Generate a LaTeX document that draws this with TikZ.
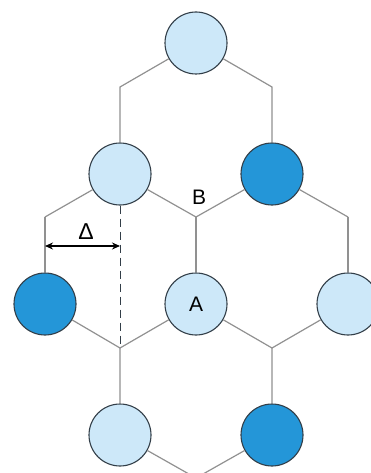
\documentclass[tikz,border=0pt]{standalone}
\usepackage{fontspec}
\setmainfont{Liberation Sans}
\usetikzlibrary{arrows.meta}
\definecolor{atomlight}{RGB}{205, 232, 249}
\definecolor{atomdark}{RGB}{36, 150, 216}
\definecolor{rim}{RGB}{50, 62, 72}
\definecolor{bond}{RGB}{145, 145, 145}

\begin{document}
\begin{tikzpicture}[
    x=1pt, y=-1pt,
    atoml/.style={circle, draw=rim, line width=1.1pt, fill=atomlight, minimum size=62pt, inner sep=0pt, font=\fontsize{21}{21}\selectfont},
    atomd/.style={circle, draw=rim, line width=1.1pt, fill=atomdark, minimum size=62pt, inner sep=0pt},
    bondline/.style={draw=bond, line width=1.2pt},
    lab/.style={font=\fontsize{21}{21}\selectfont}
]
  \useasboundingbox (0,0) rectangle (371,473);
  \clip (0,0) rectangle (371,473);

  % atoms
  \node[atoml] (top) at (196, 43) {};
  \node[atoml] (c1) at (120, 174) {};
  \node[atomd] (c2) at (272, 174) {};
  \node[atomd] (c3) at (45, 304) {};
  \node[atoml] (a) at (196, 304) {A};
  \node[atoml] (c5) at (348, 304) {};
  \node[atoml] (c6) at (120, 435) {};
  \node[atomd] (c7) at (272, 435) {};

  % lattice vertices
  \coordinate (v1) at (120, 87);
  \coordinate (v2) at (272, 87);
  \coordinate (v3) at (45, 217);
  \coordinate (b) at (196, 217);
  \coordinate (v4) at (348, 217);
  \coordinate (v5) at (120, 348);
  \coordinate (v6) at (272, 348);
  \coordinate (v7) at (196, 478);

  % bonds
  \draw[bondline] (top) -- (v1) -- (c1);
  \draw[bondline] (top) -- (v2) -- (c2);
  \draw[bondline] (v3) -- (c1) -- (b) -- (c2) -- (v4);
  \draw[bondline] (c3) -- (v3);
  \draw[bondline] (b) -- (a);
  \draw[bondline] (v4) -- (c5);
  \draw[bondline] (c3) -- (v5) -- (a) -- (v6) -- (c5);
  \draw[bondline] (v5) -- (c6) -- (v7) -- (c7) -- (v6);

  % labels
  \node[lab] (blab) at (199, 197) {B};

  % offset
  \coordinate (dtop) at (c1.south);
  \draw[dash pattern=on 8pt off 5pt, draw=rim, line width=0.9pt] (dtop) -- (v5);
  \coordinate (arl) at (45, 246);
  \coordinate (arr) at (120, 246);
  \draw[{Stealth[length=8pt,width=7pt]}-{Stealth[length=8pt,width=7pt]}, line width=1.2pt] (arl) -- (arr);
  \node[lab, font=\fontsize{23}{23}\selectfont] (delta) at (86, 232) {Δ};
\end{tikzpicture}
\end{document}
